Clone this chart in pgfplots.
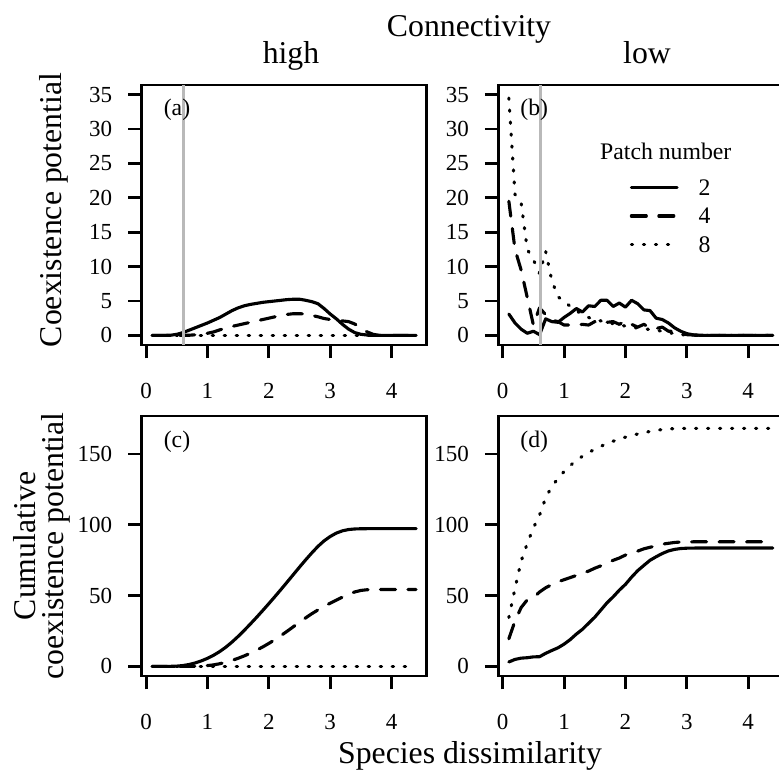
\documentclass[border=0pt]{standalone}
\usepackage{fontspec}
\setmainfont{Liberation Serif}
\usepackage{pgfplots}
\usepackage{pgfplotstable}
\pgfplotsset{compat=1.18}

\newcommand\ticksize{\fontsize{9.2}{11}\selectfont}
\newcommand\legsize{\fontsize{9.5}{11}\selectfont}
\newcommand\labsize{\fontsize{12.7}{15}\selectfont}

% coexistence potential per dissimilarity bin (a: high, b: low connectivity)
\pgfplotstableread{
x   a2   a4   a8  b2   b4   b8
0.1 0    0    0   3.1  19.5 34.5
0.2 0    0    0   1.8  12.5 20.5
0.3 0    0    0   0.9  9.5  19.3
0.4 0.02 0    0   0.3  5.5  12.5
0.5 0.15 0    0   0.6  1.5  11.0
0.6 0.4  0    0   0.1  4.0  9.0
0.7 0.75 0.02 0   2.4  3.0  12.2
0.8 1.1  0.08 0   2.0  2.2  8.0
0.9 1.45 0.16 0   1.9  2.0  5.6
1.0 1.8  0.3  0   2.6  1.5  5.0
1.1 2.2  0.5  0   3.2  1.5  4.2
1.2 2.6  0.8  0   3.9  1.5  3.6
1.3 3.1  1.05 0   3.4  1.6  3.0
1.4 3.6  1.3  0   4.3  1.5  2.6
1.5 4.0  1.5  0   4.2  2.0  2.3
1.6 4.3  1.7  0   5.1  1.7  2.1
1.7 4.5  1.9  0   5.1  1.9  1.9
1.8 4.65 2.1  0   4.2  2.0  1.7
1.9 4.8  2.3  0   4.7  1.6  1.5
2.0 4.9  2.5  0   4.1  2.1  1.35
2.1 5.0  2.7  0   5.1  1.6  1.2
2.2 5.1  2.9  0   4.6  1.2  1.05
2.3 5.2  3.05 0   3.7  1.6  0.95
2.4 5.25 3.15 0   3.6  1.1  0.85
2.5 5.25 3.15 0   2.5  1.0  0.75
2.6 5.1  3.1  0   2.3  1.2  0.6
2.7 4.9  2.9  0   1.8  0.6  0.4
2.8 4.6  2.7  0   1.1  0.6  0.25
2.9 3.9  2.45 0   0.6  0.3  0.1
3.0 3.1  2.3  0   0.25 0.1  0.05
3.1 2.4  2.2  0   0.08 0.05 0
3.2 1.6  2.1  0   0.02 0    0
3.3 0.9  2.0  0   0    0    0
3.4 0.4  1.65 0   0    0    0
3.5 0.15 1.05 0   0    0    0
3.6 0.05 0.5  0   0    0    0
3.7 0    0.15 0   0    0    0
3.8 0    0    0   0    0    0
3.9 0    0    0   0    0    0
4.0 0    0    0   0    0    0
4.1 0    0    0   0    0    0
4.2 0    0    0   0    0    0
4.3 0    0    0   0    0    0
4.4 0    0    0   0    0    0
}\densitytable

% cumulative coexistence potential (c: high, d: low connectivity)
\pgfplotstableread{
x   ca2   ca4   ca8 cb2   cb4   cb8
0.1 0     0     0   3.1   19.5  34.5
0.2 0     0     0   4.9   32.0  55.0
0.3 0     0     0   5.8   41.5  74.3
0.4 0.02  0     0   6.1   47.0  86.8
0.5 0.17  0     0   6.7   48.5  97.8
0.6 0.57  0     0   6.8   52.5  106.8
0.7 1.32  0.02  0   9.2   55.5  119.0
0.8 2.42  0.10  0   11.2  57.7  127.0
0.9 3.87  0.26  0   13.1  59.7  132.6
1.0 5.67  0.56  0   15.7  61.2  137.6
1.1 7.87  1.06  0   18.9  62.7  141.8
1.2 10.47 1.86  0   22.8  64.2  145.4
1.3 13.57 2.91  0   26.2  65.8  148.4
1.4 17.17 4.21  0   30.5  67.3  151.0
1.5 21.17 5.71  0   34.7  69.3  153.3
1.6 25.47 7.41  0   39.8  71.0  155.4
1.7 29.97 9.31  0   44.9  72.9  157.3
1.8 34.62 11.41 0   49.1  74.9  159.0
1.9 39.42 13.71 0   53.8  76.5  160.5
2.0 44.32 16.21 0   57.9  78.6  161.85
2.1 49.32 18.91 0   63.0  80.2  163.05
2.2 54.42 21.81 0   67.6  81.4  164.1
2.3 59.62 24.86 0   71.3  83.0  165.05
2.4 64.87 28.01 0   74.9  84.1  165.9
2.5 70.12 31.16 0   77.4  85.1  166.65
2.6 75.22 34.26 0   79.7  86.3  167.25
2.7 80.12 37.16 0   81.5  86.9  167.65
2.8 84.72 39.86 0   82.6  87.5  167.9
2.9 88.62 42.31 0   83.2  87.8  168.0
3.0 91.72 44.61 0   83.45 87.9  168.05
3.1 94.12 46.81 0   83.53 87.95 168.05
3.2 95.72 48.91 0   83.55 87.95 168.05
3.3 96.62 50.91 0   83.55 87.95 168.05
3.4 97.02 52.56 0   83.55 87.95 168.05
3.5 97.17 53.61 0   83.55 87.95 168.05
3.6 97.22 54.11 0   83.55 87.95 168.05
3.7 97.22 54.26 0   83.55 87.95 168.05
3.8 97.22 54.26 0   83.55 87.95 168.05
3.9 97.22 54.26 0   83.55 87.95 168.05
4.0 97.22 54.26 0   83.55 87.95 168.05
4.1 97.22 54.26 0   83.55 87.95 168.05
4.2 97.22 54.26 0   83.55 87.95 168.05
4.3 97.22 54.26 0   83.55 87.95 168.05
4.4 97.22 54.26 0   83.55 87.95 168.05
}\cumtable

\pgfplotsset{
  panel/.style={
    scale only axis,
    width=114pt, height=104pt,
    anchor=south west,
    xmin=-0.072, xmax=4.572,
    xtick={0,1,2,3,4},
    axis line style={line width=1.15pt},
    tick style={black, line width=1.15pt},
    major tick length=5.4pt,
    tick align=outside,
    xtick pos=bottom, ytick pos=left,
    tick label style={font=\ticksize},
    /pgf/number format/assume math mode=true,
    xticklabel style={inner sep=0pt, yshift=-9.7pt},
    yticklabel style={inner sep=0pt, xshift=-6.2pt},
  },
  toprow/.style={ymin=-1.4, ymax=36.4, ytick={0,5,...,35}},
  botrow/.style={ymin=-6.8, ymax=176.8, ytick={0,50,100,150}},
  two/.style={black, line width=1.25pt, line join=round, line cap=round},
  four/.style={two, dash pattern=on 6pt off 5pt},
  eight/.style={two, dash pattern=on 0.5pt off 4.3pt},
  cutoff/.style={gray!55, line width=1.1pt, forget plot},
}

\begin{document}
\begin{tikzpicture}

  % (a) high connectivity
  \begin{axis}[panel, toprow, at={(56.68pt,172.4pt)}]
    \addplot[two] table[x=x, y=a2] {\densitytable};
    \addplot[four] table[x=x, y=a4] {\densitytable};
    \addplot[eight] table[x=x, y=a8] {\densitytable};
    \addplot[cutoff] coordinates {(0.61,-1.4) (0.61,36.4)};
    \node[anchor=west, inner sep=0pt, font=\legsize] at (axis cs:0.28,32.8) {(a)};
  \end{axis}

  % (b) low connectivity, with the legend
  \begin{axis}[panel, toprow, at={(199.32pt,172.4pt)},
      legend style={
          at={(0.4596,0.6396)}, anchor=north west,
          draw=none, fill=none, inner sep=0pt,
          column sep=8pt, row sep=5.1pt,
          nodes={inner sep=0pt, text height=6.4pt, text depth=0pt},
          font=\legsize,
        },
      legend cell align=left,
      legend image code/.code={\draw[#1] (0pt,0pt) -- (18.3pt,0pt);},
    ]
    \addplot[two] table[x=x, y=b2] {\densitytable};
    \addlegendentry{2}
    \addplot[four] table[x=x, y=b4] {\densitytable};
    \addlegendentry{4}
    \addplot[eight] table[x=x, y=b8] {\densitytable};
    \addlegendentry{8}
    \addplot[cutoff] coordinates {(0.61,-1.4) (0.61,36.4)};
    \node[anchor=west, inner sep=0pt, font=\legsize] at (axis cs:0.28,32.8) {(b)};
    \node[anchor=base, inner sep=0pt, font=\legsize] at (axis cs:2.657,25.6) {Patch number};
  \end{axis}

  % (c) cumulative, high connectivity
  \begin{axis}[panel, botrow, at={(56.68pt,40pt)}]
    \addplot[two] table[x=x, y=ca2] {\cumtable};
    \addplot[four] table[x=x, y=ca4] {\cumtable};
    \addplot[eight] table[x=x, y=ca8] {\cumtable};
    \node[anchor=west, inner sep=0pt, font=\legsize] at (axis cs:0.28,158.7) {(c)};
  \end{axis}

  % (d) cumulative, low connectivity
  \begin{axis}[panel, botrow, at={(199.32pt,40pt)}]
    \addplot[two] table[x=x, y=cb2] {\cumtable};
    \addplot[four] table[x=x, y=cb4] {\cumtable};
    \addplot[eight] table[x=x, y=cb8] {\cumtable};
    \node[anchor=west, inner sep=0pt, font=\legsize] at (axis cs:0.28,158.7) {(d)};
  \end{axis}

  % outer titles and labels
  \node[anchor=base, font=\labsize] at (187.6pt,295.7pt) {Connectivity};
  \node[anchor=base, font=\labsize] at (116.4pt,284.8pt) {high};
  \node[anchor=base, font=\labsize] at (258.8pt,284.8pt) {low};
  \node[anchor=base, font=\labsize] at (188pt,4.8pt) {Species dissimilarity};
  \node[anchor=base, rotate=90, font=\labsize] at (24.8pt,226.4pt) {Coexistence potential};
  \node[anchor=base, rotate=90, font=\labsize] at (14pt,92pt) {Cumulative};
  \node[anchor=base, rotate=90, font=\labsize] at (25.6pt,92pt) {coexistence potential};

  \pgfresetboundingbox
  \useasboundingbox (0pt,0pt) rectangle (311.6pt,310.4pt);
\end{tikzpicture}
\end{document}
